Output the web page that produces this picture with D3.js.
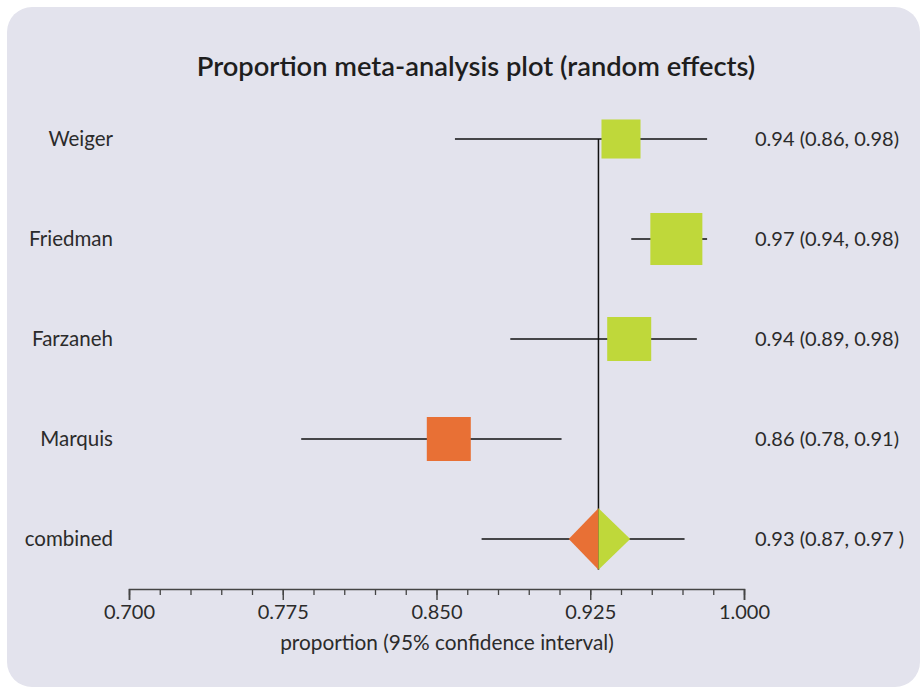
<!DOCTYPE html>
<html>
<head>
<meta charset="utf-8">
<script src="https://cdn.jsdelivr.net/npm/d3@7/dist/d3.min.js"></script>
<style>
  html, body { margin: 0; padding: 0; background: #ffffff; }
  svg { display: block; }
  text { font-family: Lato, "Open Sans", sans-serif; fill: #2b2b2b; }
</style>
</head>
<body>
<svg id="chart" width="921" height="688"></svg>
<script>
// ---- data ----
const studies   = ["Weiger", "Friedman", "Farzaneh", "Marquis", "combined"];
const estimates = [0.940, 0.967, 0.944, 0.856, 0.929];
const ciLower   = [0.859, 0.945, 0.886, 0.784, 0.872];
const ciUpper   = [0.982, 0.982, 0.977, 0.911, 0.971];
const weights   = [18.8, 33.4, 23.9, 23.9];            // % weight of each study (square area)
const pooledDiamond = [0.9145, 0.9445];                   // extent of combined diamond
const ciLabels  = ["0.94 (0.86, 0.98)", "0.97 (0.94, 0.98)", "0.94 (0.89, 0.98)",
                   "0.86 (0.78, 0.91)", "0.93 (0.87, 0.97 )"];
const majorTicks = [0.700, 0.775, 0.850, 0.925, 1.000];
const minorStep  = 0.015;
const title      = "Proportion meta-analysis plot (random effects)";
const xTitle     = "proportion (95% confidence interval)";

// ---- styles ----
const GREEN = "#bfd83a", ORANGE = "#e87035", PANEL = "#e3e3ed";

const svg = d3.select("#chart");

svg.append("rect")
  .attr("x", 7).attr("y", 7).attr("width", 913).attr("height", 680)
  .attr("rx", 25).attr("ry", 25).attr("fill", PANEL);

const x = d3.scaleLinear().domain([0.7, 1.0]).range([129, 744]);
const y = d3.scalePoint().domain(studies).range([139, 539]);
const sz = d3.scaleSqrt().domain([0, 100]).range([0, 90]);

const pooled = estimates[estimates.length - 1];

// title
svg.append("text")
  .attr("x", 476).attr("y", 76)
  .attr("text-anchor", "middle")
  .attr("font-size", 27.3).attr("font-weight", 600)
  .style("fill", "#1e1e1e")
  .text(title);

// axes
const axisY = 589;
const minorTicks = d3.range(0.7, 1.0 + 1e-9, minorStep);
const gMinor = svg.append("g").attr("transform", `translate(0,${axisY})`)
  .call(d3.axisBottom(x).tickValues(minorTicks).tickSize(6).tickFormat(""));
gMinor.select(".domain").remove();
gMinor.selectAll(".tick line").attr("stroke", "#444").attr("stroke-width", 1.3);

const gAxis = svg.append("g").attr("transform", `translate(0,${axisY})`)
  .call(d3.axisBottom(x).tickValues(majorTicks).tickSize(11).tickSizeOuter(11).tickPadding(5)
        .tickFormat(d3.format(".3f")));
gAxis.select(".domain").attr("stroke", "#444").attr("stroke-width", 1.6);
gAxis.selectAll(".tick line").attr("stroke", "#444").attr("stroke-width", 1.4);
gAxis.selectAll(".tick text")
  .attr("font-size", 20).style("font-family", "Lato, sans-serif").style("fill", "#2b2b2b");

svg.append("text")
  .attr("x", 447).attr("y", 650)
  .attr("text-anchor", "middle").attr("font-size", 20.8)
  .text(xTitle);

// vertical pooled line
const nStudies = weights.length;
const diamondHalfH = (x(pooledDiamond[1]) - x(pooledDiamond[0])) / 2;
svg.append("line")
  .attr("x1", x(pooled)).attr("x2", x(pooled))
  .attr("y1", y(studies[0])).attr("y2", y(studies[studies.length - 1]) + diamondHalfH)
  .attr("stroke", "#111").attr("stroke-width", 1.5);

// CI lines
svg.selectAll("line.ci").data(studies).enter().append("line")
  .attr("class", "ci")
  .attr("x1", (d, i) => x(ciLower[i])).attr("x2", (d, i) => x(ciUpper[i]))
  .attr("y1", d => y(d)).attr("y2", d => y(d))
  .attr("stroke", "#111").attr("stroke-width", 1.6);

// squares
svg.selectAll("rect.sq").data(studies.slice(0, nStudies)).enter().append("rect")
  .attr("class", "sq")
  .attr("x", (d, i) => x(estimates[i]) - sz(weights[i]) / 2)
  .attr("y", (d, i) => y(d) - sz(weights[i]) / 2)
  .attr("width", (d, i) => sz(weights[i]))
  .attr("height", (d, i) => sz(weights[i]))
  .attr("fill", (d, i) => estimates[i] < pooled ? ORANGE : GREEN);

// combined diamond (two halves)
const cy = y(studies[studies.length - 1]);
const cx = x(pooled);
const xl = x(pooledDiamond[0]), xr = x(pooledDiamond[1]);
svg.append("path")
  .attr("d", `M${cx},${cy - diamondHalfH} L${xl},${cy} L${cx},${cy + diamondHalfH} Z`)
  .attr("fill", ORANGE);
svg.append("path")
  .attr("d", `M${cx},${cy - diamondHalfH} L${xr},${cy} L${cx},${cy + diamondHalfH} Z`)
  .attr("fill", GREEN);

// study labels
svg.selectAll("text.lab").data(studies).enter().append("text")
  .attr("class", "lab")
  .attr("x", 113).attr("y", d => y(d)).attr("dy", "0.35em")
  .attr("text-anchor", "end").attr("font-size", 20.5)
  .text(d => d);

// CI labels
svg.selectAll("text.cil").data(studies).enter().append("text")
  .attr("class", "cil")
  .attr("x", 755).attr("y", d => y(d)).attr("dy", "0.35em")
  .attr("font-size", 20)
  .text((d, i) => ciLabels[i]);
</script>
</body>
</html>
